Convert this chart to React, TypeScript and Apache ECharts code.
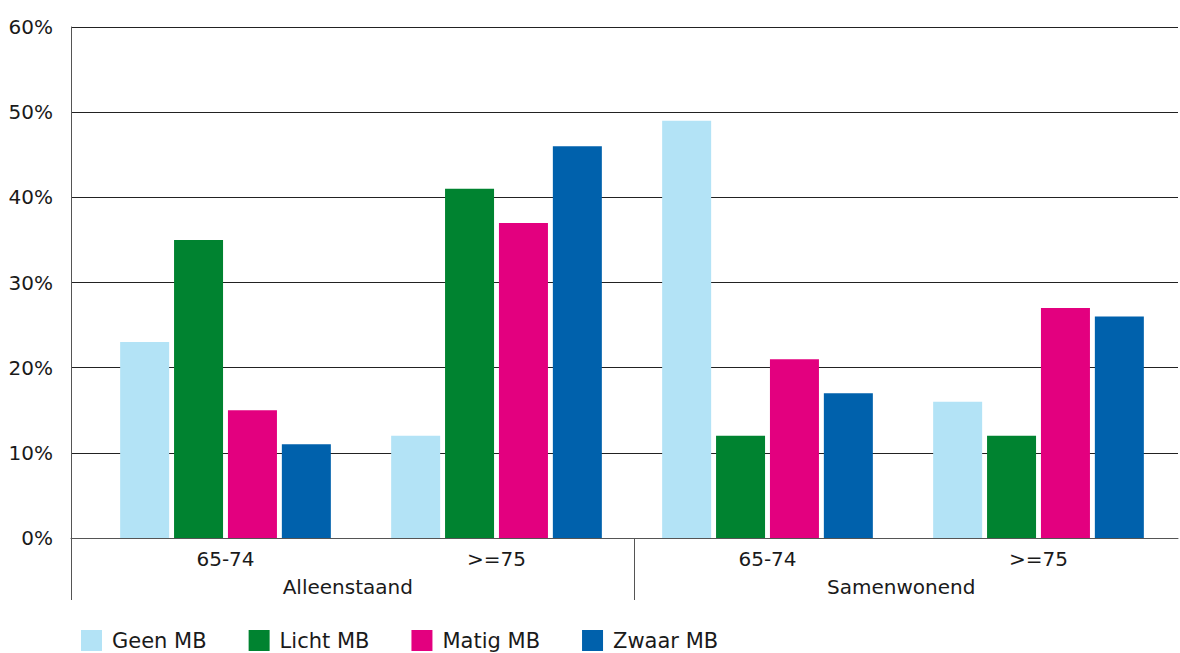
import React, { useEffect, useRef } from "react";
import * as echarts from "echarts";

const categories = ["65-74", ">=75", "65-74", ">=75"];
const groups = ["Alleenstaand", "Samenwonend"];
const seriesNames = ["Geen MB", "Licht MB", "Matig MB", "Zwaar MB"];
const geenMB = [23, 12, 49, 16];
const lichtMB = [35, 41, 12, 12];
const matigMB = [15, 37, 21, 27];
const zwaarMB = [11, 46, 17, 26];
const seriesValues = [geenMB, lichtMB, matigMB, zwaarMB];
const colors = ["#b3e3f6", "#008330", "#e3007f", "#0061ac"];
const yMin = 0;
const yMax = 60;
const yInterval = 10;

const FONT = "'DejaVu Sans', sans-serif";

export default function App() {
  const ref = useRef<HTMLDivElement>(null);
  useEffect(() => {
    if (!ref.current) return;
    const chart = echarts.init(ref.current, null, { renderer: "svg" });
    chart.setOption({
      animation: false,
      textStyle: { fontFamily: FONT },
      grid: [
        { left: 90, right: 6, top: 27, bottom: 115 },
        { left: 71, right: 2, top: 27, bottom: 115 },
      ],
      xAxis: [
        {
          type: "category",
          gridIndex: 0,
          data: categories,
          axisLine: { show: false },
          axisTick: { show: false },
          axisLabel: { margin: 11, fontSize: 20, color: "#1a1a1a", fontFamily: FONT },
        },
        {
          type: "category",
          gridIndex: 1,
          data: groups,
          axisLine: { show: true, lineStyle: { color: "#555", width: 1 } },
          axisTick: { show: false },
          axisLabel: { margin: 39, fontSize: 20, color: "#1a1a1a", fontFamily: FONT },
        },
      ],
      yAxis: [
        {
          type: "value",
          gridIndex: 0,
          min: yMin,
          max: yMax,
          interval: yInterval,
          show: false,
        },
        {
          type: "value",
          gridIndex: 1,
          min: yMin,
          max: yMax,
          interval: yInterval,
          axisLine: { show: true, lineStyle: { color: "#555", width: 1 } },
          axisTick: { show: false },
          splitLine: { show: true, lineStyle: { color: "#222", width: 1 } },
          axisLabel: {
            formatter: "{value}%",
            fontSize: 20,
            margin: 18,
            color: "#1a1a1a",
            fontFamily: FONT,
          },
        },
      ],
      legend: {
        left: 81,
        top: 630,
        padding: 0,
        itemWidth: 21,
        itemHeight: 21,
        itemGap: 42,
        icon: "rect",
        textStyle: { fontSize: 21, color: "#1a1a1a", fontFamily: FONT, padding: [0, 0, 0, 5] },
        data: seriesNames,
      },
      graphic: [
        {
          type: "line",
          shape: { x1: 71.5, y1: 538, x2: 71.5, y2: 600 },
          style: { stroke: "#555", lineWidth: 1 },
        },
        {
          type: "line",
          shape: { x1: 634.5, y1: 538, x2: 634.5, y2: 600 },
          style: { stroke: "#555", lineWidth: 1 },
        },
      ],
      series: seriesNames.map((name, i) => ({
        name,
        type: "bar",
        xAxisIndex: 0,
        yAxisIndex: 0,
        data: seriesValues[i],
        barWidth: 49,
        barGap: "10%",
        itemStyle: { color: colors[i] },
      })),
    });
    return () => chart.dispose();
  }, []);
  return <div ref={ref} style={{ width: 1180, height: 653, position: "absolute", left: 0, top: 0 }} />;
}
